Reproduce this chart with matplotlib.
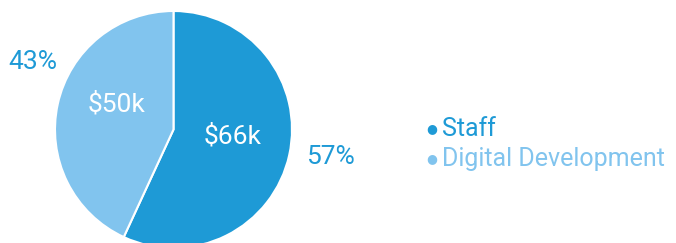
import matplotlib.pyplot as plt

plt.rcParams['font.family'] = ['Roboto', 'DejaVu Sans']

# budget split
categories = ['Staff', 'Digital Development']
values = [66, 50]
value_labels = ['$66k', '$50k']
pct_labels = ['57%', '43%']
colors = ['#1E9AD6', '#81C4EE']

fig = plt.figure(figsize=(6.76, 2.43), dpi=100)
# square axes in pixels, pie slightly cut at the bottom like the original
ax = fig.add_axes([55 / 676, -5 / 243, 237 / 676, 237 / 243])
ax.pie(values, colors=colors, startangle=90, counterclock=False,
       radius=1, wedgeprops=dict(edgecolor='white', linewidth=1.5))
ax.set_xlim(-1, 1)
ax.set_ylim(-1, 1)
ax.set_aspect('auto')
ax.axis('off')

# inner value labels
ax.text(0.50, -0.06, value_labels[0], color='white', fontsize=19,
        ha='center', va='center')
ax.text(-0.48, 0.21, value_labels[1], color='white', fontsize=19,
        ha='center', va='center')
# outer percentage labels
ax.text(1.32, -0.23, pct_labels[0], color=colors[0], fontsize=19,
        ha='center', va='center', clip_on=False)
ax.text(-1.19, 0.57, pct_labels[1], color=colors[0], fontsize=19,
        ha='center', va='center', clip_on=False)

# legend: bullet + coloured text
for i, (name, c) in enumerate(zip(categories, colors)):
    y = 1 - (129 + i * 30) / 243
    fig.text(432 / 676, y, '\u25cf', color=c, fontsize=9,
             ha='center', va='center', family='DejaVu Sans')
    fig.text(442 / 676, y, name, color=c, fontsize=18,
             ha='left', va='center')

fig.savefig('out.png', dpi=100)
